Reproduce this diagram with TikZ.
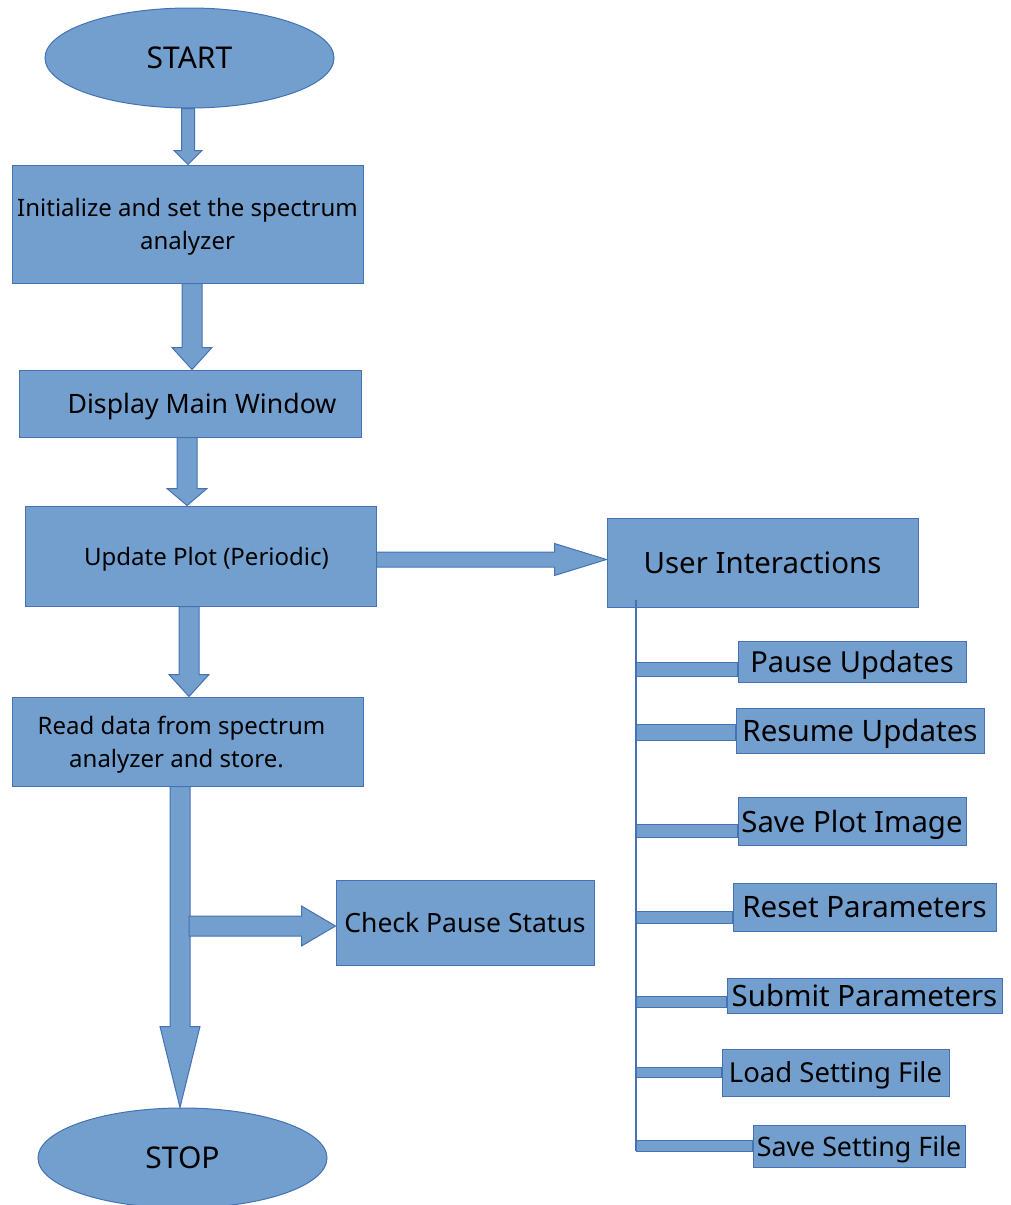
\documentclass[tikz,border=0pt]{standalone}
\usepackage{fontspec}
\setmainfont{Noto Sans}
\usetikzlibrary{calc,shapes.geometric}
\definecolor{boxblue}{RGB}{114,159,206}
\definecolor{edgeblue}{RGB}{68,114,180}
% block arrows: from, to, centre, shaft half width, head half width, head length
\newcommand{\blkdown}[6]{%
  \path[blk] let \p1=#1, \p2=#2 in
    (#3pt-#4pt,\y1) -- (#3pt+#4pt,\y1) -- (#3pt+#4pt,\y2+#6pt) -- (#3pt+#5pt,\y2+#6pt)
    -- (#3pt,\y2) -- (#3pt-#5pt,\y2+#6pt) -- (#3pt-#4pt,\y2+#6pt) -- cycle;}
\newcommand{\blkright}[6]{%
  \path[blk] let \p1=#1, \p2=#2 in
    (\x1,-#3pt+#4pt) -- (\x2-#6pt,-#3pt+#4pt) -- (\x2-#6pt,-#3pt+#5pt) -- (\x2,-#3pt)
    -- (\x2-#6pt,-#3pt-#5pt) -- (\x2-#6pt,-#3pt-#4pt) -- (\x1,-#3pt-#4pt) -- cycle;}
\newcommand{\fsz}[1]{\fontsize{#1}{33}\selectfont}

\begin{document}
\begin{tikzpicture}[x=1pt,y=-1pt,
    blk/.style={fill=boxblue,draw=edgeblue,line width=1pt},
    proc/.style={blk,rectangle,inner sep=0pt,text depth=0pt,align=center,font=\fsz{24}},
    term/.style={blk,ellipse,inner sep=0pt,text depth=0pt,minimum width=289pt,minimum height=100pt,font=\fsz{30}},
    item/.style={blk,rectangle,inner sep=0pt,text depth=0pt}]
  \useasboundingbox (0,0) rectangle (1011,1205);

  \node[term] (start) at (189.5,58) {START};
  \node[proc,minimum width=351pt,minimum height=118pt] (init) at (187.5,224) {Initialize and set the spectrum\\analyzer};
  \node[proc,minimum width=342pt,minimum height=67pt,font=\fsz{26.7}] (disp) at (190,403.5) {\hspace*{24pt}Display Main Window};
  \node[proc,minimum width=351pt,minimum height=100pt] (upd) at (200.5,556) {\hspace*{12pt}Update Plot (Periodic)};
  \node[proc,minimum width=351pt,minimum height=89pt] (read) at (187.5,741.5) {\hspace*{-12pt}Read data from spectrum\\\hspace*{-22pt}analyzer and store.};
  \node[proc,minimum width=258pt,minimum height=85pt,font=\fsz{26.5}] (chk) at (465,922.5) {Check Pause Status};
  \node[term] (stop) at (182.5,1158) {STOP};
  \node[proc,minimum width=311pt,minimum height=89pt,font=\fsz{29.4}] (usr) at (762.5,562.5) {User Interactions};

  \blkdown{(start.south)}{(init.north)}{188}{6.5}{14}{14}
  \blkdown{(init.south)}{(disp.north)}{192}{10}{20}{22}
  \blkdown{(disp.south)}{(upd.north)}{187}{10}{20}{17}
  \blkdown{(upd.south)}{(read.north)}{189}{10}{20}{22}
  \blkdown{(read.south)}{(stop.north)}{180}{10}{20}{81}
  \coordinate (brk) at (189,926);
  \blkright{(brk)}{(chk.west)}{926}{10}{20}{34}
  \blkright{(upd.east)}{(usr.west)}{559.5}{7.5}{16}{52}

  \coordinate (trk) at (636,600);
  \coordinate (trkend) at (636,1151);
  \draw[edgeblue,line width=1.2pt] (trk) -- (trkend);

  \foreach \nm/\txt/\fs/\xa/\xb/\ya/\yb/\bt/\bb in {
      pause/Pause Updates/29/738/966/641/682/662/676,
      resume/Resume Updates/29.5/736/984/708/753/724/740,
      saveimg/Save Plot Image/29.3/738/966/797/845/824/837,
      reset/Reset Parameters/29.5/733/996/883/931/911/923,
      submit/Submit Parameters/29.4/727/1002/978/1013/996/1007,
      load/Load Setting File/27.5/722/949/1049/1096/1067/1077,
      saveset/Save Setting File/26.8/753/965/1125/1167/1140/1151} {
    \node[item,font=\fsz{\fs},minimum width={(\xb-\xa)*1pt},minimum height={(\yb-\ya)*1pt}] (\nm) at ({(\xa+\xb)/2},{(\ya+\yb)/2}) {\txt};
    \path[blk] let \p1=(\nm.west), \p2=(636,\bt), \p3=(0,\bb) in (\p2) rectangle (\x1,\y3);
  }
\end{tikzpicture}
\end{document}
